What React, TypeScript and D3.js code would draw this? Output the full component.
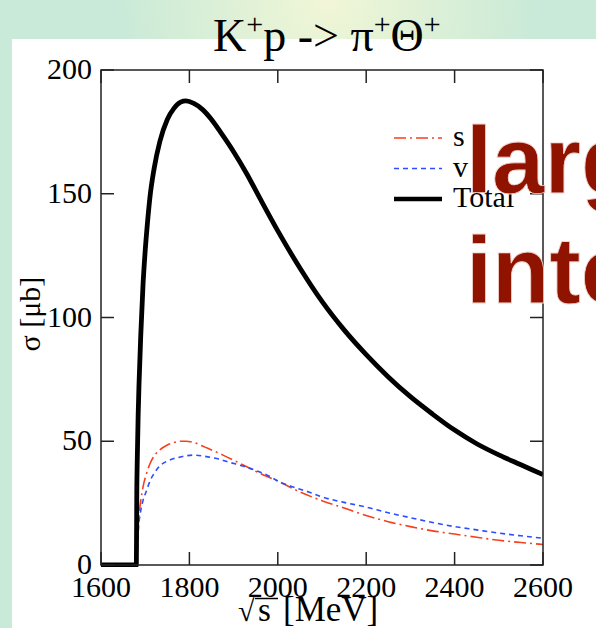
import * as d3 from "d3";

// K+p -> pi+ Theta+ cross section
const totalE = [1600, 1680, 1681, 1682, 1684, 1686, 1690, 1695, 1700, 1705, 1711, 1720, 1733, 1750, 1765, 1780, 1792, 1810, 1830, 1850, 1870, 1900, 1930, 1960, 2000, 2050, 2100, 2150, 2200, 2250, 2300, 2350, 2400, 2450, 2500, 2550, 2600];
const totalV = [0, 0, 30, 42, 60, 73, 93, 113, 127, 138, 149, 160, 171, 180, 184.5, 187, 187.5, 186.5, 184, 180, 175, 167, 158, 148, 135, 120, 106.5, 95, 85, 76, 68, 61, 54.5, 49, 44.5, 40.5, 36.5];

const sE = [1681, 1683, 1685, 1690, 1695, 1703, 1711, 1722, 1733, 1750, 1765, 1779, 1792, 1810, 1824, 1850, 1876, 1915, 1960, 2005, 2050, 2100, 2150, 2200, 2250, 2300, 2350, 2400, 2450, 2500, 2550, 2600];
const sV = [4, 12, 18, 26, 31.5, 37, 41, 44.5, 46.5, 48.5, 49.5, 50, 50, 49.5, 48.5, 46.5, 44.4, 41, 37, 33.5, 29.5, 26, 23, 20, 17.5, 15.5, 13.8, 12.5, 11.2, 10, 9.1, 8.3];

const vE = [1681, 1683, 1685, 1690, 1695, 1703, 1711, 1722, 1733, 1750, 1765, 1779, 1795, 1808, 1835, 1862, 1890, 1921, 1950, 1975, 2005, 2035, 2070, 2100, 2150, 2200, 2250, 2300, 2350, 2400, 2450, 2500, 2550, 2600];
const vV = [3, 9, 15, 22, 26, 30, 34, 37.5, 40, 42, 43, 43.6, 44.2, 44.4, 43.9, 43, 41.5, 40, 38.2, 36.4, 33.5, 31.5, 29.5, 27.5, 25.3, 23.4, 21.1, 19.1, 17.2, 15.5, 14.2, 12.9, 11.8, 10.8];

const xTicks = [1600, 1800, 2000, 2200, 2400, 2600];
const yTicks = [0, 50, 100, 150, 200];

const legendItems = [
  { label: "s", color: "#f5401e", dash: "12,4,2,4", width: 1.6 },
  { label: "v", color: "#2f4cff", dash: "5,4", width: 1.6 },
  { label: "Total", color: "#000", dash: null, width: 4.5 },
];

const W = 596,
  H = 628;
const serif = "'Liberation Serif', 'DejaVu Serif', serif";

export default function App() {
  const x = d3.scaleLinear().domain([1600, 2600]).range([101, 543]);
  const y = d3.scaleLinear().domain([0, 200]).range([565, 70]);
  const line = d3
    .line<[number, number]>()
    .x((d) => x(d[0]))
    .y((d) => y(d[1]))
    .curve(d3.curveMonotoneX);

  const zip = (a: number[], b: number[]) => a.map((e, i) => [e, b[i]] as [number, number]);
  const [x0, x1] = x.range();
  const [yb, yt] = y.range();
  const tl = 13;

  return (
    <svg
      width={W}
      height={H}
      style={{ position: "absolute", left: 0, top: 0, display: "block" }}
    >
      <defs>
        <radialGradient id="glow" cx="0.55" cy="0" r="0.35">
          <stop offset="0" stopColor="#f1f6d6" />
          <stop offset="1" stopColor="#c9ead8" />
        </radialGradient>
        <clipPath id="plot">
          <rect x={x0} y={yt - 2} width={x1 - x0} height={yb - yt + 4} />
        </clipPath>
      </defs>
      <rect width={W} height={H} fill="#c9ead8" />
      <rect width={W} height={H} fill="url(#glow)" />
      <rect x={12} y={39} width={W - 12} height={H - 39} fill="#fff" />

      {/* title */}
      <text x={213} y={51} fontFamily={serif} fontSize={46} fill="#000">
        K<tspan dy={-17} fontSize={30}>+</tspan>
        <tspan dy={17}>p -&gt; π</tspan>
        <tspan dy={-17} fontSize={30}>+</tspan>
        <tspan dy={17}>Θ</tspan>
        <tspan dy={-17} fontSize={30}>+</tspan>
      </text>

      {/* curves */}
      <g clipPath="url(#plot)" fill="none">
        <path d={line(zip(sE, sV)) || ""} stroke={legendItems[0].color} strokeWidth={1.6} strokeDasharray="12,4,2,4" />
        <path d={line(zip(vE, vV)) || ""} stroke={legendItems[1].color} strokeWidth={1.6} strokeDasharray="5,4" />
        <path d={line(zip(totalE, totalV)) || ""} stroke="#000" strokeWidth={4.8} strokeLinejoin="round" />
      </g>

      {/* frame and ticks */}
      <rect x={x0} y={yt} width={x1 - x0} height={yb - yt} fill="none" stroke="#222" strokeWidth={1.5} />
      {xTicks.map((t) => (
        <g key={t}>
          <line x1={x(t)} x2={x(t)} y1={yb} y2={yb - tl} stroke="#222" strokeWidth={1.5} />
          <line x1={x(t)} x2={x(t)} y1={yt} y2={yt + tl} stroke="#222" strokeWidth={1.5} />
          <text x={x(t)} y={597} textAnchor="middle" fontFamily={serif} fontSize={30}>
            {t}
          </text>
        </g>
      ))}
      {yTicks.map((t) => (
        <g key={t}>
          <line x1={x0} x2={x0 + tl} y1={y(t)} y2={y(t)} stroke="#222" strokeWidth={1.5} />
          <line x1={x1} x2={x1 - tl} y1={y(t)} y2={y(t)} stroke="#222" strokeWidth={1.5} />
          <text x={92} y={y(t) + 9} textAnchor="end" fontFamily={serif} fontSize={30}>
            {t}
          </text>
        </g>
      ))}

      {/* axis titles */}
      <g fontFamily={serif} fontSize={33}>
        <text x={238} y={621} fontSize={30}>√</text>
        <line x1={255} x2={278} y1={598.5} y2={598.5} stroke="#000" strokeWidth={1.5} />
        <text x={258} y={621}>s</text>
        <text x={283} y={621} fontSize={35}>[MeV]</text>
      </g>
      <text
        transform="translate(40,314) rotate(-90)"
        textAnchor="middle"
        fontFamily={serif}
        fontSize={30}
      >
        σ [μb]
      </text>

      {/* legend */}
      {legendItems.map((it, i) => (
        <g key={it.label} transform={`translate(394,${138 + i * 30.5})`}>
          <line x1={0} x2={48} y1={0} y2={0} stroke={it.color} strokeWidth={it.width} strokeDasharray={it.dash || undefined} />
          <text x={59} y={8} fontFamily={serif} fontSize={30}>
            {it.label}
          </text>
        </g>
      ))}

      {/* overlapping slide text */}
      <g fontFamily="'Liberation Sans', Arial, sans-serif" fontWeight="bold" fontSize={94} fill="#901300" stroke="#f3d2cc" strokeWidth={0.8}>
        <text x={466} y={193}>large</text>
        <text x={466} y={303}>interference</text>
      </g>
    </svg>
  );
}
